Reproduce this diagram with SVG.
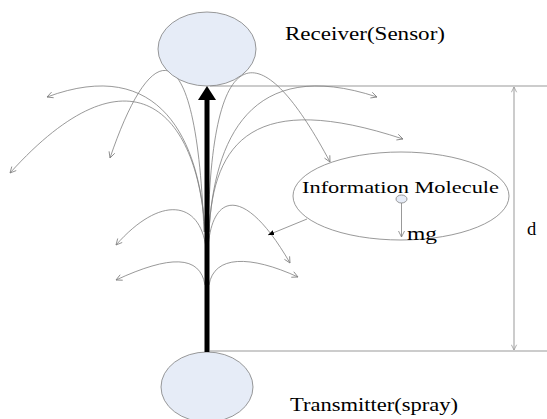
<svg xmlns="http://www.w3.org/2000/svg" width="547" height="419" viewBox="0 0 547 419">
<style>
.c{fill:none;stroke:#7f7f7f;stroke-width:0.8;marker-end:url(#open)}
.g{fill:none;stroke:#999;stroke-width:1}
.node{fill:#e6ecf7;stroke:#7f7f7f;stroke-width:0.8}
.t{font-family:"Liberation Serif","Times New Roman",serif;fill:#000}
</style>
<defs>
<marker id="open" viewBox="0 0 8 8" refX="7" refY="4" markerWidth="8" markerHeight="8" markerUnits="userSpaceOnUse" orient="auto">
<path d="M1,1 L7,4 L1,7" fill="none" stroke="#7f7f7f" stroke-width="0.8"/>
</marker>
<marker id="openS" viewBox="0 0 8 8" refX="7" refY="4" markerWidth="7" markerHeight="7" markerUnits="userSpaceOnUse" orient="auto-start-reverse">
<path d="M1,1 L7,4 L1,7" fill="none" stroke="#999" stroke-width="0.9"/>
</marker>
<marker id="fill" viewBox="0 0 8 8" refX="7" refY="4" markerWidth="7" markerHeight="7" markerUnits="userSpaceOnUse" orient="auto">
<path d="M0,1 L7,4 L0,7 Z" fill="#000"/>
</marker>
</defs>
<g id="dimension">
<line class="g" x1="210" y1="86" x2="547" y2="86"/>
<line class="g" x1="210" y1="351" x2="547" y2="351"/>
<line class="g" x1="514" y1="87" x2="514" y2="350" marker-start="url(#openS)" marker-end="url(#openS)"/>
<text class="t" x="527" y="235" font-size="18.5">d</text>
</g>
<g id="connectors">
<path class="c" d="M205,232 C200,140 160,55 47,97"/>
<path class="c" d="M205,232 C198,110 130,40 10,173"/>
<path class="c" d="M204,232 C196,20 150,40 110,158"/>
<path class="c" d="M209,232 C214,140 250,55 377,97"/>
<path class="c" d="M209,232 C213,140 255,90 403,139"/>
<path class="c" d="M208,232 C212,25 265,40 330,162"/>
<path class="c" d="M206,248 C200,200 160,195 116,245"/>
<path class="c" d="M208,248 C212,192 245,185 290,263"/>
<path class="c" d="M205,285 C200,255 170,255 116,280"/>
<path class="c" d="M209,285 C214,255 250,255 298,277"/>
<line x1="307" y1="219" x2="268" y2="235" stroke="#7f7f7f" stroke-width="0.8" marker-end="url(#fill)"/>
</g>
<g id="receiver">
<ellipse class="node" cx="207" cy="49" rx="49" ry="37"/>
<text class="t" x="285" y="40" font-size="18.5" textLength="160" lengthAdjust="spacingAndGlyphs">Receiver(Sensor)</text>
</g>
<g id="transmitter">
<ellipse class="node" cx="207" cy="387" rx="46" ry="35"/>
<text class="t" x="290" y="411" font-size="18" textLength="168" lengthAdjust="spacingAndGlyphs">Transmitter(spray)</text>
</g>
<g id="main-arrow">
<line x1="207" y1="352" x2="207" y2="98" stroke="#000" stroke-width="5"/>
<polygon points="207,86 198,100 216,100" fill="#000"/>
</g>
<g id="information-molecule">
<ellipse cx="401" cy="196" rx="108" ry="44" fill="none" stroke="#7f7f7f" stroke-width="0.8"/>
<text class="t" x="302" y="193" font-size="17.5" textLength="197" lengthAdjust="spacingAndGlyphs">Information Molecule</text>
<ellipse class="node" cx="401.5" cy="199" rx="5.5" ry="4"/>
<line class="c" x1="401.5" y1="203" x2="401.5" y2="237"/>
<text class="t" x="407" y="240" font-size="18" textLength="30" lengthAdjust="spacingAndGlyphs">mg</text>
</g>
</svg>
